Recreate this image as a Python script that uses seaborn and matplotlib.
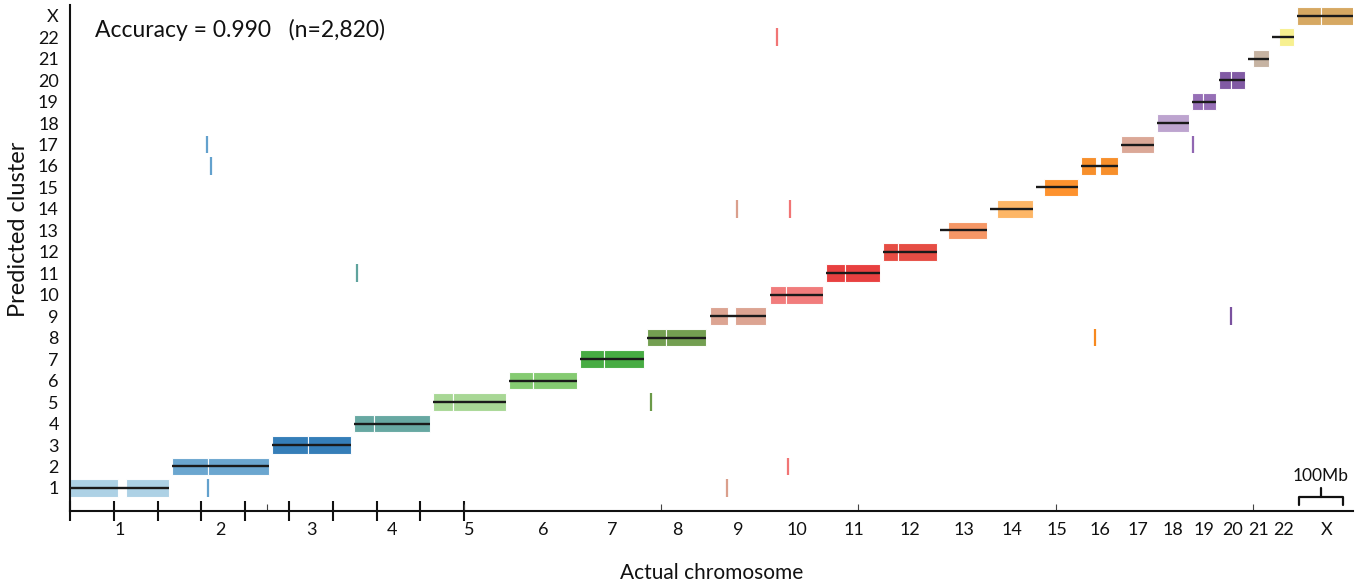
"""Predicted cluster vs actual chromosome position, one block per chromosome."""

import matplotlib
matplotlib.use("Agg")
import matplotlib.pyplot as plt
import numpy as np
import seaborn as sns

sns.set_theme(style="white")
plt.rcParams["font.family"] = ["Lato", "DejaVu Sans"]

# chromosome layout (Mb)
chrom_names = [str(i) for i in range(1, 23)] + ["X"]
chrom_len = [226, 221, 180, 174, 167, 155, 146, 135, 130, 123, 123, 123,
             107, 98, 96, 84, 75, 73, 55, 59, 48, 50, 132]
# where the coloured block starts (acrocentric short arms are not covered)
block_start = [0, 0, 0, 0, 0, 0, 0, 0, 0, 0, 0, 0,
               18, 16, 18, 0, 0, 0, 0, 0, 11, 14, 0]
# centromere split (thin white line), None if not visible
centromere = [None, 82, 82, 46, 46, 55, 55, 43, None, 37, 43, 34,
              None, None, None, None, None, None, 25, 27, None, None, 55]
# uncovered stretches inside a block
gaps = {"1": (110, 128), "9": (43, 59), "16": (34, 43)}

chrom_colors = ["#a9cfe4", "#63a1cd", "#2a77b4", "#5fa39d", "#a3d58f", "#7fc96a",
                "#3da839", "#6b9a48", "#da9f8c", "#f17575", "#e73636", "#e5433a",
                "#f6925e", "#fdb25e", "#fd8c22", "#f7891f", "#d9a392", "#ba9fcd",
                "#9167b2", "#7a519f", "#c3af9d", "#f7f08a", "#d4a45a"]

# misclassified windows: actual chromosome, position in it (Mb), predicted row
mis_chrom = ["2", "2", "2", "4", "8", "9", "9", "10", "10", "10", "16", "19", "20"]
mis_pos = [80, 89, 82, 7, 9, 41, 62, 43, 46, 16, 30, 1, 27]
mis_row = [17, 16, 1, 11, 5, 1, 14, 2, 14, 22, 8, 17, 9]

accuracy = 0.990
n_windows = 2820

GAP = 7
BAR_H = 0.82

starts = np.concatenate([[0], np.cumsum(np.array(chrom_len[:-1]) + GAP)])
ends = starts + np.array(chrom_len)
mids = (starts + ends) / 2
rows = np.arange(1, len(chrom_names) + 1)
total = ends[-1]

fig = plt.figure(figsize=(13.6, 5.87), dpi=100)
ax = fig.add_axes([70 / 1360, 76 / 587, 1283 / 1360, 506 / 587])

for i, name in enumerate(chrom_names):
    b0 = block_start[i]
    L = chrom_len[i]
    if name in gaps:
        g0, g1 = gaps[name]
        pieces = [(b0, g0), (g1, L)]
    elif centromere[i] is not None:
        pieces = [(b0, centromere[i]), (centromere[i], L)]
    else:
        pieces = [(b0, L)]
    for a, b in pieces:
        ax.barh(rows[i], b - a, left=starts[i] + a, height=BAR_H,
                color=chrom_colors[i], edgecolor="white", linewidth=0.8,
                alpha=0.95, zorder=2)

ax.hlines(rows, starts, ends, color="#1a1a1a", linewidth=1.7, zorder=3)

idx = [chrom_names.index(c) for c in mis_chrom]
mis_x = starts[idx] + np.array(mis_pos)
mis_y = np.array(mis_row)
ax.vlines(mis_x, mis_y - BAR_H / 2, mis_y + BAR_H / 2,
          colors=[chrom_colors[k] for k in idx], linewidth=1.6, zorder=2)

ax.text(57, 22.35, f"Accuracy = {accuracy:.3f}   (n={n_windows:,})",
        fontsize=16.5, va="center", ha="left", color="#111111")

# 100Mb scale bracket
bx0, bx1 = 2806, 2906
bxm = (bx0 + bx1) / 2
ax.plot([bx0, bx0, bx1, bx1], [0.2, 0.58, 0.58, 0.2], color="#111111", lw=1.6)
ax.plot([bxm, bxm], [0.58, 1.0], color="#111111", lw=1.6)
ax.text(bxm, 1.56, "100Mb", ha="center", va="center", fontsize=12.5, color="#111111")

ax.set_xlim(0, 2929)
ax.set_ylim(-0.075, 23.5)

ax.set_xticks(mids)
ax.set_xticklabels(chrom_names)
ax.set_xticks(np.arange(0, 1000, 100), minor=True)
ax.tick_params(axis="x", which="both", bottom=True)
ax.tick_params(axis="x", which="major", length=0, pad=8, labelsize=13, colors="#111111")
ax.tick_params(axis="x", which="minor", direction="inout", length=14, width=1.5,
               color="#111111")
ax.vlines(np.arange(450, total, 450), 0, 0.013, transform=ax.get_xaxis_transform(),
          colors="#444444", linewidth=0.8)

ax.set_yticks(rows)
ax.set_yticklabels(chrom_names)
ax.set_yticks([6, 11, 16, 21], minor=True)
ax.tick_params(axis="y", which="both", left=True)
ax.tick_params(axis="y", which="major", length=0, pad=8, labelsize=13, colors="#111111")
ax.tick_params(axis="y", which="minor", direction="in", length=4, width=0.8,
               color="#444444")

sns.despine(ax=ax)
for side in ["left", "bottom"]:
    ax.spines[side].set_linewidth(1.5)
    ax.spines[side].set_color("#111111")

ax.set_xlabel("Actual chromosome", fontsize=15, labelpad=18, color="#111111")
ax.set_ylabel("Predicted cluster", fontsize=17, color="#111111")
ax.yaxis.set_label_coords(-0.032, 0.557)

fig.savefig("out.png", dpi=100)
